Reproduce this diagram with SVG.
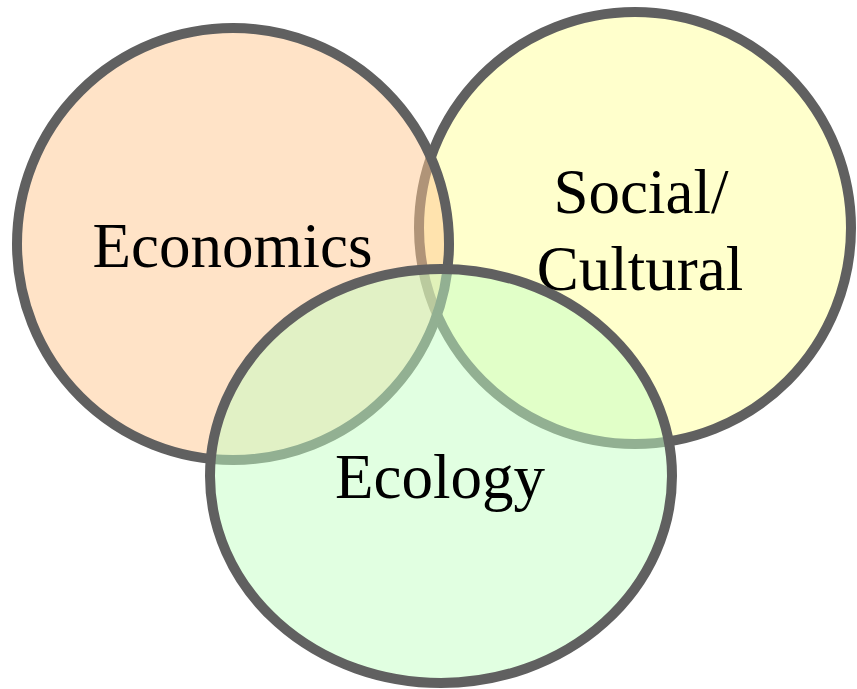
<svg xmlns="http://www.w3.org/2000/svg" width="857" height="689" viewBox="0 0 857 689">
  <style>
    .ring { stroke: #606060; stroke-width: 10; }
    .social { fill: #ffff99; fill-opacity: 0.5; }
    .econ { fill: #ffc890; fill-opacity: 0.5; }
    .eco { fill: #c4ffc4; fill-opacity: 0.5; }
    .label { font-family: "Liberation Serif", "Times New Roman", serif; font-size: 63px; fill: #000; text-anchor: middle; }
  </style>
  <rect width="857" height="689" fill="#ffffff"/>
  <g id="node-social">
    <circle class="ring social" cx="635" cy="228" r="216"/>
  </g>
  <g id="node-economics">
    <circle class="ring econ" cx="233" cy="244" r="216"/>
  </g>
  <g id="node-ecology">
    <ellipse class="ring eco" cx="441" cy="476" rx="231" ry="207"/>
  </g>
  <g id="labels">
    <text id="label-economics" class="label" x="232.5" y="267">Economics</text>
    <text id="label-social" class="label" x="641"><tspan x="641" y="213">Social/</tspan><tspan x="640" y="290">Cultural</tspan></text>
    <text id="label-ecology" class="label" x="440" y="498">Ecology</text>
  </g>
</svg>
